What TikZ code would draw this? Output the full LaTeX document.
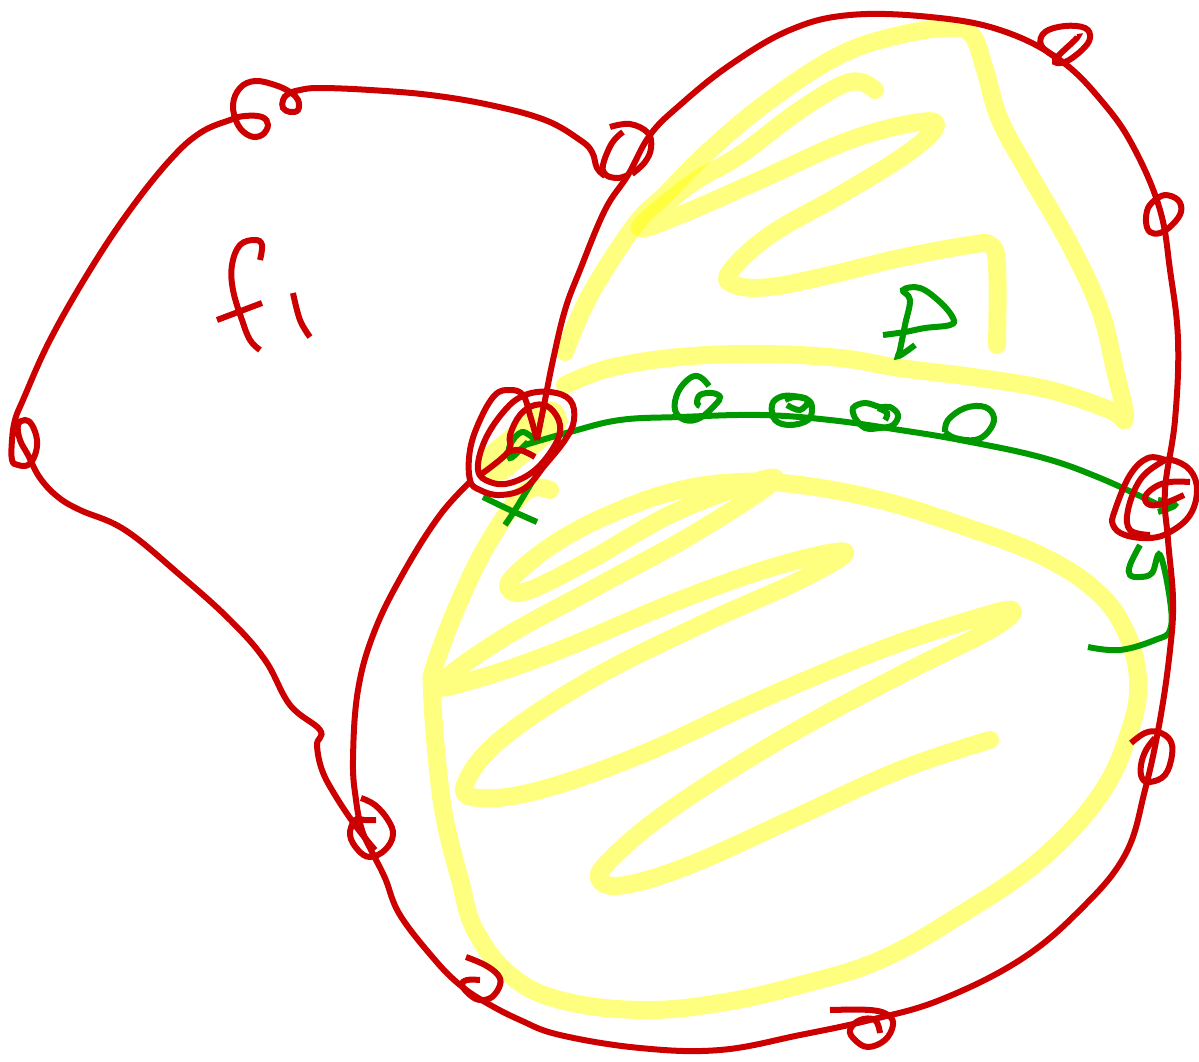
\documentclass[tikz,border=0pt]{standalone}
\definecolor{inkred}{HTML}{CC0000}
\definecolor{inkgreen}{HTML}{009900}
\definecolor{inkyellow}{HTML}{FFFF00}
\tikzset{
  ink/.style={line cap=round,line join=round,smooth,tension=0.65},
  redink/.style={draw=inkred,line width=6pt},
  greenink/.style={draw=inkgreen,line width=6pt},
  yellowink/.style={draw=inkyellow,line width=18pt,opacity=0.5,line cap=round,line join=round}
}
\newcommand{\stroke}[2]{\path[#1] plot[ink] coordinates {#2};}
\begin{document}
\begin{tikzpicture}[x=1pt,y=-1pt]
\useasboundingbox (0,0) rectangle (1199,1062);
% yellow highlighter, upper region
\stroke{yellowink}{(565,352)(590,295)(635,225)(665,195)(710,150)(770,100)(840,55)(900,35)(950,28)(972,35)(985,70)(1000,120)(1030,175)(1070,245)(1100,310)(1115,370)(1125,418)(1110,410)(1050,390)(980,378)(900,368)(840,358)(760,354)(680,357)(610,368)(565,385)}
\stroke{yellowink}{(875,90)(850,82)(800,110)(740,155)(700,178)(670,200)(640,228)(680,215)(760,180)(850,140)(920,122)(935,128)(905,155)(840,195)(770,235)(730,272)(735,285)(770,287)(830,275)(900,258)(970,245)(990,245)(997,265)(997,345)}
% yellow in the knot
\path[yellowink,line width=38pt,line cap=round] (498,462) -- (548,420);
% yellow highlighter, lower region
\stroke{yellowink}{(550,490)(525,492)(490,540)(460,600)(435,665)(432,690)(437,760)(445,820)(460,880)(475,930)(510,975)(560,1000)(640,1010)(720,1003)(800,985)(880,960)(960,915)(1040,860)(1100,795)(1130,730)(1138,680)(1125,630)(1095,590)(1040,555)(960,525)(880,500)(800,485)(740,482)(680,490)(620,510)(560,540)(515,575)(510,590)(530,590)(590,560)(680,510)(775,478)(700,530)(600,585)(500,640)(440,685)(480,678)(560,650)(680,600)(780,565)(845,552)(800,580)(700,625)(590,680)(500,740)(465,785)(480,798)(540,790)(640,755)(760,700)(880,650)(970,620)(1012,610)(990,630)(900,675)(780,740)(670,810)(610,860)(600,880)(625,885)(690,865)(790,820)(900,770)(990,740)}
% green
\stroke{greenink}{(525,445)(570,432)(620,420)(680,417)(760,415)(830,420)(900,430)(960,440)(1040,457)(1100,478)(1165,508)}
\stroke{greenink}{(535,440)(522,432)(510,445)(510,458)(520,450)(528,442)}
\stroke{greenink}{(483,497)(510,510)(537,522)}
\stroke{greenink}{(532,482)(515,510)(505,525)}
\stroke{greenink}{(709,386)(700,377)(690,378)(678,392)(675,410)(685,420)(700,418)(715,405)(720,397)(712,393)(700,395)(697,403)(700,406)}
\stroke{greenink}{(785,400)(795,397)(808,400)(812,408)(808,420)(790,425)(775,420)(772,405)(780,397)(793,396)(808,400)(800,410)(787,405)}
\stroke{greenink}{(855,418)(853,408)(865,403)(880,407)(890,407)(898,415)(893,425)(880,428)(865,428)(855,418)}
\stroke{greenink}{(878,408)(887,413)(885,420)}
\stroke{greenink}{(945,432)(948,420)(965,408)(985,407)(994,418)(988,432)(975,440)(955,438)(945,432)}
\stroke{greenink}{(883,335)(905,332)(925,328)(950,325)(953,318)(940,302)(920,288)(903,290)(910,300)(905,325)(900,350)(899,356)(915,345)}
\stroke{greenink}{(1158,500)(1175,505)(1158,512)}
\stroke{greenink}{(1140,545)(1130,565)(1130,575)(1140,577)(1152,573)(1160,555)(1170,600)(1170,630)(1155,640)(1120,650)(1088,647)}
% red, left lobe with its loops
\stroke{redink}{(605,176)(597,168)(592,152)(580,140)(545,120)(490,105)(430,95)(370,90)(320,88)(300,90)(288,94)(283,100)(283,108)(290,112)(298,110)(298,100)(290,92)(275,85)(255,81)(240,88)(233,105)(238,125)(250,136)(262,135)(268,125)(262,117)(245,116)(230,120)(200,133)(170,160)(130,210)(90,270)(50,340)(23,400)(15,420)(12,440)(12,460)(18,465)(28,465)(35,455)(37,440)(32,425)(25,420)(18,425)(20,440)(28,455)(40,478)(58,497)(80,510)(125,530)(180,575)(230,620)(265,660)(290,705)(320,730)(317,745)(322,770)(335,795)(355,825)(375,850)}
% red, right contour
\stroke{redink}{(537,440)(545,400)(553,360)(565,310)(580,270)(605,210)(628,175)(650,135)(680,105)(730,65)(790,30)(850,15)(930,17)(1000,30)(1060,60)(1105,105)(1135,150)(1160,210)(1170,270)(1178,340)(1175,420)(1165,490)(1168,540)(1173,600)(1170,650)(1160,720)(1145,790)(1125,855)(1080,910)(1020,960)(940,1000)(870,1020)(800,1035)(720,1050)(640,1048)(560,1035)(520,1020)(485,1002)(460,985)(435,960)(400,915)(385,878)(372,852)(362,830)(356,800)(353,760)(358,690)(375,630)(405,570)(440,515)(470,482)}
% red small loops
\stroke{redink}{(623,132)(612,143)(603,165)(606,175)(618,178)(628,175)}
\stroke{redink}{(610,127)(630,124)(648,133)(651,148)(645,162)(632,174)}
\stroke{redink}{(1077,37)(1075,40)(1055,60)(1065,62)(1082,50)(1090,38)(1085,28)(1065,26)(1045,32)(1041,45)(1055,57)}
\stroke{redink}{(1155,200)(1165,195)(1178,200)(1181,212)(1172,225)(1160,233)(1150,232)(1146,222)(1148,208)(1155,200)}
\stroke{redink}{(1131,743)(1145,733)(1158,732)(1170,740)(1172,755)(1165,775)(1150,782)(1142,778)(1141,765)(1146,750)(1155,738)}
\stroke{redink}{(830,1010)(870,1010)(888,1015)(893,1025)(885,1040)(868,1047)(855,1040)(850,1030)(860,1020)(875,1020)(880,1033)}
\stroke{redink}{(361,798)(375,805)(388,820)(393,835)(385,850)(370,857)(358,850)(350,835)(355,820)(365,820)(376,820)}
\stroke{redink}{(466,957)(485,965)(498,975)(500,985)(492,997)(480,1000)(470,995)(462,985)(467,980)(480,980)}
% red knot, left
\stroke{redink}{(537,440)(530,415)(523,395)(510,390)(495,395)(480,420)(470,450)(470,480)(480,490)(500,495)(525,488)(545,465)(565,440)(574,420)(570,400)(550,392)(525,395)(505,410)(485,440)(478,470)(490,482)(510,483)(535,470)(555,445)(560,425)(550,408)(535,405)(520,415)(510,435)(508,452)(480,475)}
\stroke{redink}{(508,452)(520,450)(535,457)}
% red knot, right
\stroke{redink}{(1165,460)(1148,458)(1130,475)(1115,510)(1113,525)(1125,535)(1150,538)(1170,532)(1190,515)(1197,490)(1190,470)(1172,460)(1160,463)(1140,480)(1128,510)(1130,530)(1150,535)}
\stroke{redink}{(1184,495)(1165,503)(1150,505)(1145,497)(1155,487)(1170,482)(1190,482)}
% red f1
\stroke{redink}{(260,260)(262,245)(255,240)(240,245)(232,265)(233,290)(242,320)(250,340)(260,350)}
\stroke{redink}{(217,320)(262,303)}
\stroke{redink}{(293,293)(300,320)(310,337)}
\end{tikzpicture}
\end{document}
